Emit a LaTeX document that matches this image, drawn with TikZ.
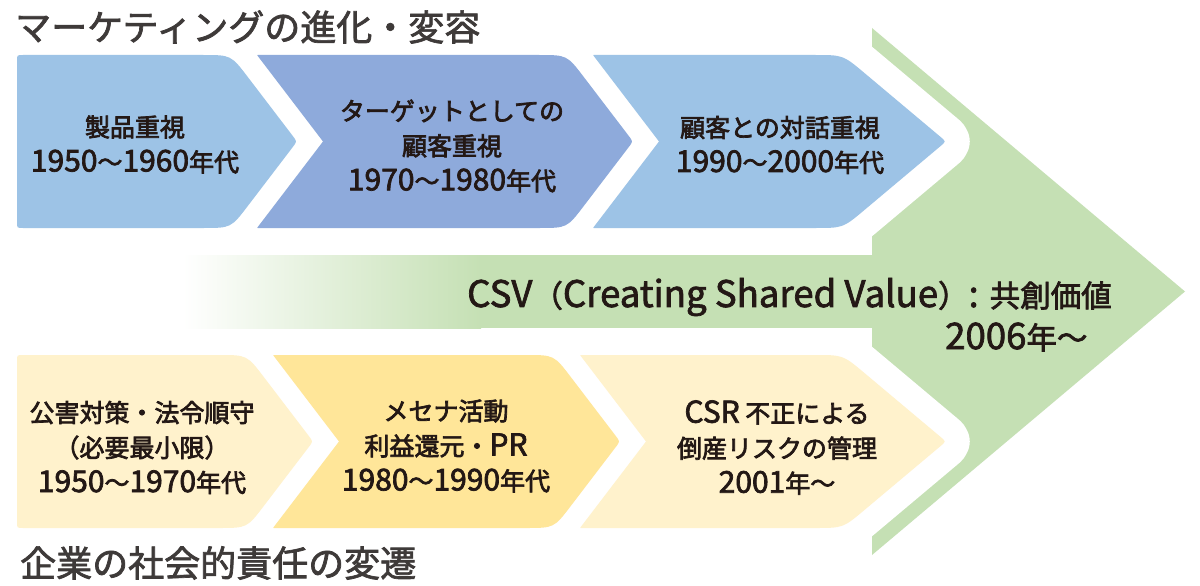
\documentclass[tikz,border=0pt]{standalone}
\usepackage{fontspec}
\setmainfont{Noto Sans CJK JP}
\newfontfamily\lat{Noto Sans CJK JP}[Scale=1.2]
\usetikzlibrary{calc}
\definecolor{cblue}{HTML}{9DC3E6}
\definecolor{cbluedark}{HTML}{8EAADB}
\definecolor{cyel}{HTML}{FFF2CC}
\definecolor{cyeldark}{HTML}{FFE699}
\definecolor{cgreen}{HTML}{C5E0B4}
\definecolor{ink}{HTML}{231815}
\definecolor{titlegray}{HTML}{3E3A39}
\newcommand\heavytext{\special{pdf:literal direct 2 Tr 0.7 w}}
% #1 style, #2 left radius, #3 xl, #4 notch depth, #5 x of right corner, #6 tip x, #7 y top, #8 y bottom
\newcommand\chevshape[8]{%
\pgfmathsetmacro\chym{(#7+#8)/2}%
\pgfmathsetmacro\chxn{#3+#4}%
\path[#1] (\chxn,\chym) -- ($(#3,#7)!#2!(\chxn,\chym)$) .. controls (#3,#7) .. ($(#3,#7)!#2!(#5,#7)$)
 -- ($(#5,#7)!28pt!(#3,#7)$) .. controls (#5,#7) .. ($(#5,#7)!28pt!(#6,\chym)$)
 -- ($(#6,\chym)!7pt!(#5,#7)$) .. controls (#6,\chym) .. ($(#6,\chym)!7pt!(#5,#8)$)
 -- ($(#5,#8)!28pt!(#6,\chym)$) .. controls (#5,#8) .. ($(#5,#8)!28pt!(#3,#8)$)
 -- ($(#3,#8)!#2!(#5,#8)$) .. controls (#3,#8) .. ($(#3,#8)!#2!(\chxn,\chym)$) -- cycle;}
\tikzset{
  lbl/.style={font=\heavytext\fontsize{25}{35}\selectfont, text=ink, align=center, inner sep=0pt},
  ttl/.style={font=\heavytext\fontsize{36}{40}\selectfont, text=titlegray, anchor=west, inner sep=0pt},
  csvtxt/.style={font=\heavytext\fontsize{30.5}{36}\selectfont, text=ink, anchor=west, inner sep=0pt},
  halo/.style={fill=white, draw=white, line width=50pt, line join=round}
}
\begin{document}
\begin{tikzpicture}[x=1pt,y=-1pt]
\useasboundingbox (0,0) rectangle (1200,586);
\fill[white] (0,0) rectangle (1200,586);
% green arrow and band
\fill[cgreen] (872,28) -- (1185,291.5) -- (872,555) -- cycle;
\fill[cgreen] (480,255) rectangle (880,328);
\shade[left color=white, right color=cgreen] (183,255) rectangle (481,328);
% white halos around the chevrons next to the green arrow
\chevshape{halo}{0.5pt}{593}{66}{843}{946}{55}{228}
\chevshape{halo}{0.5pt}{580}{66}{843}{946}{355}{528}
% top row
\chevshape{fill=cblue}{6pt}{17}{0}{231}{297}{55}{228}
\chevshape{fill=cbluedark}{0.5pt}{257}{66}{567}{633}{55}{228}
\chevshape{fill=cblue}{0.5pt}{593}{66}{843}{946}{55}{228}
% bottom row
\chevshape{fill=cyel}{6pt}{17}{0}{247}{313}{355}{528}
\chevshape{fill=cyeldark}{0.5pt}{273}{66}{554}{620}{355}{528}
\chevshape{fill=cyel}{0.5pt}{580}{66}{843}{946}{355}{528}
% texts
\node[ttl] (h1) at (15,27) {マーケティングの進化・変容};
\node[ttl] (h2) at (20,563) {企業の社会的責任の変遷};
\node[lbl] (t1) at (135,144.5) {製品重視\\{\lat 1950}～{\lat 1960}年代};
\node[lbl] (t2) at (452,146) {ターゲットとしての\\顧客重視\\{\lat 1970}～{\lat 1980}年代};
\node[lbl] (t3) at (780,145) {顧客との対話重視\\{\lat 1990}～{\lat 2000}年代};
\node[lbl] (b1) at (142,447.5) {公害対策・法令順守\\（必要最小限）\\{\lat 1950}～{\lat 1970}年代};
\node[lbl] (b2) at (446,446) {メセナ活動\\利益還元・{\lat PR}\\{\lat 1980}～{\lat 1990}年代};
\node[lbl] (b3) at (777,447.5) {{\lat CSR} 不正による\\倒産リスクの管理\\{\lat 2001}年～};
\node[csvtxt] (csv) at (467,297) {{\lat CSV}（{\lat Creating Shared Value}）{\lat : }共創価値};
\node[csvtxt] (yr) at (945,337) {{\lat 2006}年～};
\end{tikzpicture}
\end{document}
